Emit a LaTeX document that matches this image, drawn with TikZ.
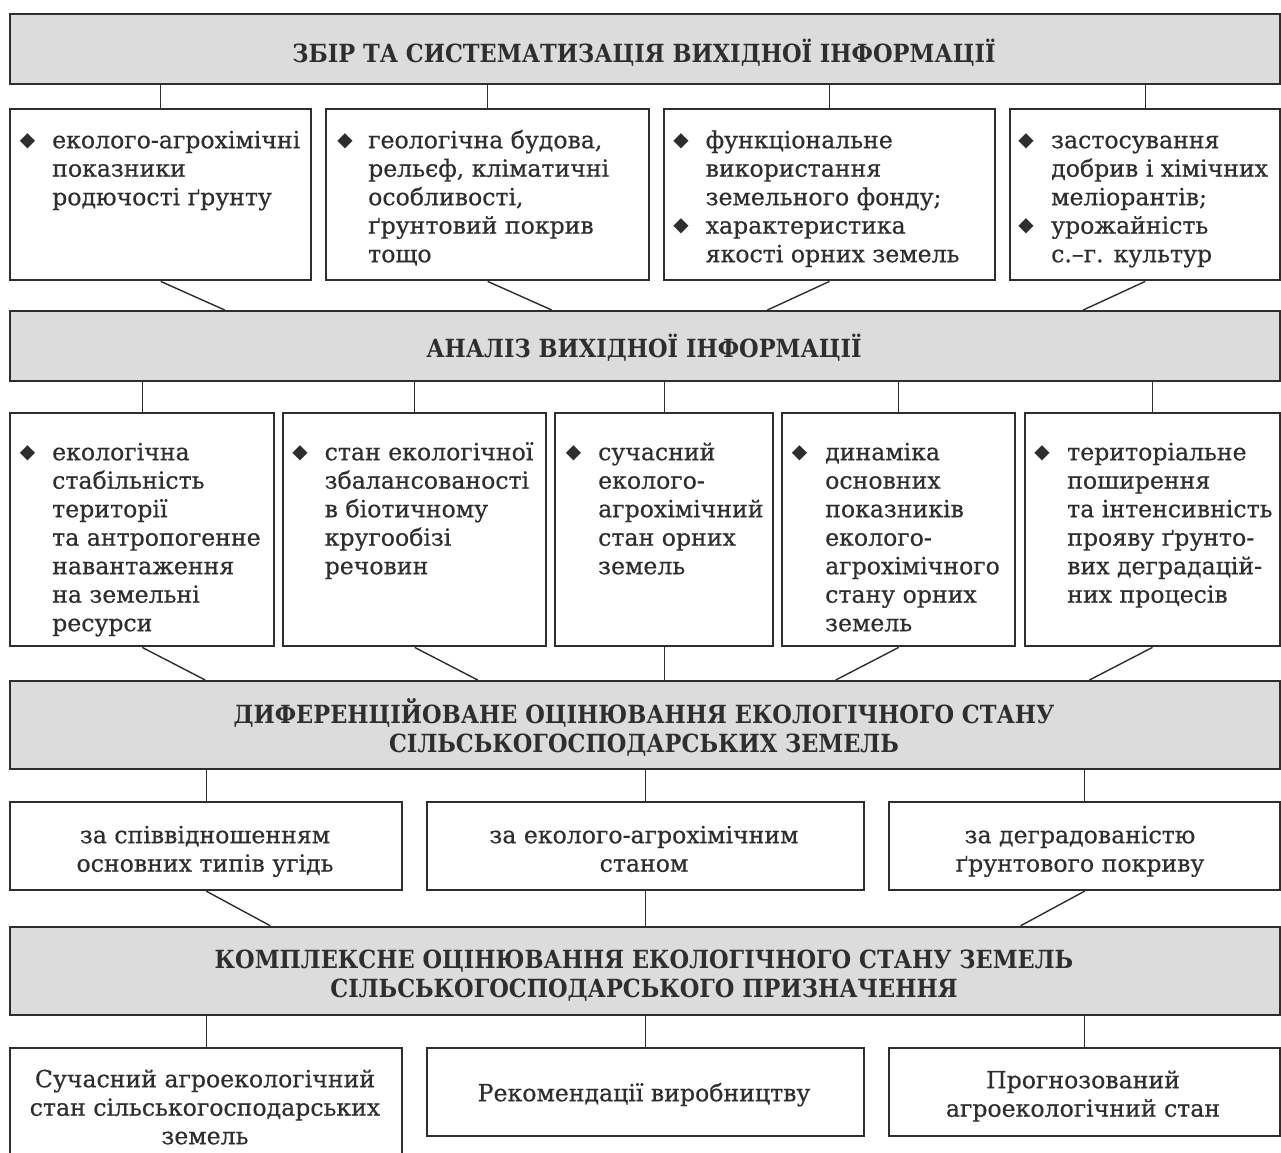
\documentclass[tikz,border=0pt]{standalone}
\usepackage{fontspec}
\setmainfont{DejaVu Serif}[FakeBold=0.5]
\newfontfamily\headfont{DejaVu Serif Condensed Bold}
\newfontfamily\symfont{DejaVu Sans}
\usetikzlibrary{calc}
\definecolor{ink}{HTML}{2E2E2E}
\definecolor{hdr}{HTML}{DCDCDC}
\newcommand\mystrut{\rule{0pt}{20pt}}
\newcommand\hstrut{\rule{0pt}{27pt}}
\begin{document}
\begin{tikzpicture}[x=1pt,y=-1pt,
  box/.style={draw=ink, line width=2.4pt, rectangle, inner sep=0pt, anchor=north west},
  hbox/.style={box, fill=hdr},
  link/.style={draw=ink, line width=1.4pt},
  body/.style={font=\fontsize{23.6}{28.5}\selectfont, text=ink, inner sep=0pt, align=left, anchor=north west},
  cbody/.style={font=\fontsize{23.6}{28.5}\selectfont, text=ink, inner sep=0pt, align=center, anchor=north},
  head/.style={font=\headfont\fontsize{25}{29}\selectfont, text=ink, align=center, inner sep=0pt, anchor=north},
  bul/.style={font=\symfont\fontsize{20}{20}\selectfont, text=ink, inner sep=0pt}
]
\clip (0,0) rectangle (1281,1152);
\fill[white] (0,0) rectangle (1281,1152);

% ---------- level 1
\node[hbox, minimum width=1270pt, minimum height=70pt] (t) at (9,13) {};
\node[head] (tt) at (644,62-27) {\hstrut ЗБІР ТА СИСТЕМАТИЗАЦІЯ ВИХІДНОЇ ІНФОРМАЦІЇ};

\node[box, minimum width=301pt, minimum height=171pt] (a1) at (9,108) {};
\node[box, minimum width=323pt, minimum height=171pt] (a2) at (325,108) {};
\node[box, minimum width=331.5pt, minimum height=171pt] (a3) at (662.5,108) {};
\node[box, minimum width=270pt, minimum height=171pt] (a4) at (1009,108) {};

\node[bul] (a1b) at (27.5,141) {◆};
\node[body] (a1t) at (52,148-20) {\mystrut еколого-агрохімічні\\показники\\родючості ґрунту};
\node[bul] (a2b) at (345,141) {◆};
\node[body] (a2t) at (368,148-20) {\mystrut геологічна будова,\\рельєф, кліматичні\\особливості,\\ґрунтовий покрив\\тощо};
\node[bul] (a3b) at (681,141) {◆};
\node[bul] (a3c) at (681,226.5) {◆};
\node[body] (a3t) at (705.5,148-20) {\mystrut функціональне\\використання\\земельного фонду;\\характеристика\\якості орних земель};
\node[bul] (a4b) at (1026,141) {◆};
\node[bul] (a4c) at (1026,226.5) {◆};
\node[body] (a4t) at (1051,148-20) {\mystrut застосування\\добрив і хімічних\\меліорантів;\\урожайність\\с.–г. культур};

% ---------- level 2
\node[hbox, minimum width=1270pt, minimum height=70pt] (anl) at (9,310) {};
\node[head] (anlt) at (644,357-27) {\hstrut АНАЛІЗ ВИХІДНОЇ ІНФОРМАЦІЇ};

\node[box, minimum width=264pt, minimum height=233pt] (b1) at (9,412) {};
\node[box, minimum width=263pt, minimum height=233pt] (b2) at (282,412) {};
\node[box, minimum width=218pt, minimum height=233pt] (b3) at (554,412) {};
\node[box, minimum width=233pt, minimum height=233pt] (b4) at (781,412) {};
\node[box, minimum width=255.5pt, minimum height=233pt] (b5) at (1023.5,412) {};

\node[bul] (b1b) at (27.5,453) {◆};
\node[body] (b1t) at (52,460-20) {\mystrut екологічна\\стабільність\\території\\та антропогенне\\навантаження\\на земельні\\ресурси};
\node[bul] (b2b) at (300,453) {◆};
\node[body] (b2t) at (324.5,460-20) {\mystrut стан екологічної\\збалансованості\\в біотичному\\кругообізі\\речовин};
\node[bul] (b3b) at (573.5,453) {◆};
\node[body] (b3t) at (598,460-20) {\mystrut сучасний\\еколого-\\агрохімічний\\стан орних\\земель};
\node[bul] (b4b) at (799.5,453) {◆};
\node[body] (b4t) at (825,460-20) {\mystrut динаміка\\основних\\показників\\еколого-\\агрохімічного\\стану орних\\земель};
\node[bul] (b5b) at (1042,453) {◆};
\node[body] (b5t) at (1067,460-20) {\mystrut територіальне\\поширення\\та інтенсивність\\прояву ґрунто-\\вих деградацій-\\них процесів};

% ---------- level 3
\node[hbox, minimum width=1270pt, minimum height=88pt] (dif) at (9,680) {};
\node[head] (dift) at (644,723-27) {\hstrut ДИФЕРЕНЦІЙОВАНЕ ОЦІНЮВАННЯ ЕКОЛОГІЧНОГО СТАНУ\\СІЛЬСЬКОГОСПОДАРСЬКИХ ЗЕМЕЛЬ};

\node[box, minimum width=392pt, minimum height=88pt] (c1) at (9,800.7) {};
\node[box, minimum width=437pt, minimum height=88pt] (c2) at (426,800.7) {};
\node[box, minimum width=391pt, minimum height=88pt] (c3) at (888,800.7) {};
\node[cbody] (c1t) at (205,843-20) {\mystrut за співвідношенням\\основних типів угідь};
\node[cbody] (c2t) at (644,843-20) {\mystrut за еколого-агрохімічним\\станом};
\node[cbody] (c3t) at (1080,843-20) {\mystrut за деградованістю\\ґрунтового покриву};

% ---------- level 4
\node[hbox, minimum width=1270pt, minimum height=88pt] (com) at (9,925.7) {};
\node[head] (comt) at (644,968-27) {\hstrut КОМПЛЕКСНЕ ОЦІНЮВАННЯ ЕКОЛОГІЧНОГО СТАНУ ЗЕМЕЛЬ\\СІЛЬСЬКОГОСПОДАРСЬКОГО ПРИЗНАЧЕННЯ};

\node[box, minimum width=392pt, minimum height=130pt] (d1) at (9,1047) {};
\node[box, minimum width=437pt, minimum height=88pt] (d2) at (426,1047) {};
\node[box, minimum width=391pt, minimum height=88pt] (d3) at (888,1047) {};
\node[cbody] (d1t) at (205,1087-20) {\mystrut Сучасний агроекологічний\\стан сільськогосподарських\\земель};
\node[cbody] (d2t) at (644,1101-20) {\mystrut Рекомендації виробництву};
\node[cbody] (d3t) at (1083,1088-20) {\mystrut Прогнозований\\агроекологічний стан};

% ---------- connectors
\foreach \n in {a1,a2,a3,a4} \draw[link] (\n.north) -- (\n.north |- t.south);
\draw[link] (a1.south) -- ($(a1.south |- anl.north)+(64,0)$);
\draw[link] (a2.south) -- ($(a2.south |- anl.north)+(64,0)$);
\draw[link] (a3.south) -- ($(a3.south |- anl.north)+(-62,0)$);
\draw[link] (a4.south) -- ($(a4.south |- anl.north)+(-62,0)$);

\foreach \n in {b1,b2,b3,b4,b5} \draw[link] (\n.north) -- (\n.north |- anl.south);
\draw[link] (b1.south) -- ($(b1.south |- dif.north)+(63,0)$);
\draw[link] (b2.south) -- ($(b2.south |- dif.north)+(63,0)$);
\draw[link] (b3.south) -- (b3.south |- dif.north);
\draw[link] (b4.south) -- ($(b4.south |- dif.north)+(-63,0)$);
\draw[link] (b5.south) -- ($(b5.south |- dif.north)+(-63,0)$);

\foreach \n in {c1,c2,c3} \draw[link] (\n.north) -- (\n.north |- dif.south);
\draw[link] (c1.south) -- ($(c1.south |- com.north)+(64,0)$);
\draw[link] (c2.south) -- (c2.south |- com.north);
\draw[link] (c3.south) -- ($(c3.south |- com.north)+(-64,0)$);

\foreach \n in {d1,d2,d3} \draw[link] (\n.north) -- (\n.north |- com.south);
\end{tikzpicture}
\end{document}
